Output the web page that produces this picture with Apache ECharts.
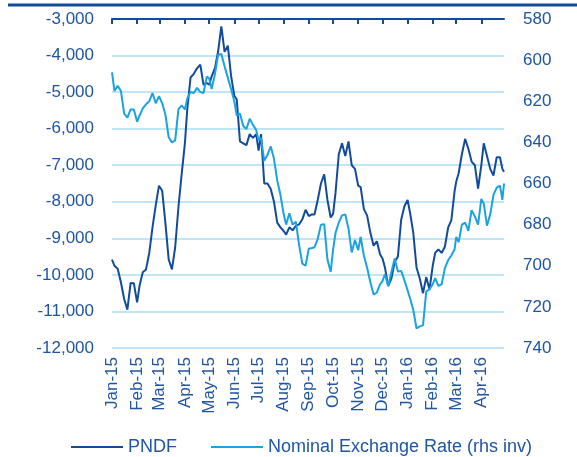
<!DOCTYPE html>
<html>
<head>
<meta charset="utf-8">
<script src="https://cdn.jsdelivr.net/npm/echarts@6/dist/echarts.min.js"></script>
<style>
  html, body { margin: 0; padding: 0; background: #fff; }
  #chart { width: 577px; height: 457px; }
</style>
</head>
<body>
<div id="chart"></div>
<script>
// sample dates (roughly every 4 days)
var dates = [
  '2015-01-01','2015-01-04','2015-01-08','2015-01-12','2015-01-16','2015-01-20','2015-01-24','2015-01-28',
  '2015-02-01','2015-02-04','2015-02-08','2015-02-12','2015-02-16','2015-02-20','2015-02-24','2015-02-28',
  '2015-03-01','2015-03-04','2015-03-08','2015-03-12','2015-03-16','2015-03-20','2015-03-24','2015-03-28',
  '2015-04-01','2015-04-04','2015-04-08','2015-04-12','2015-04-16','2015-04-20','2015-04-24','2015-04-28',
  '2015-05-01','2015-05-04','2015-05-08','2015-05-12','2015-05-16','2015-05-20','2015-05-24','2015-05-28',
  '2015-06-01','2015-06-04','2015-06-08','2015-06-12','2015-06-16','2015-06-20','2015-06-24','2015-06-28',
  '2015-07-01','2015-07-04','2015-07-08','2015-07-12','2015-07-16','2015-07-20','2015-07-24','2015-07-28',
  '2015-08-01','2015-08-04','2015-08-08','2015-08-12','2015-08-16','2015-08-20','2015-08-24','2015-08-28',
  '2015-09-01','2015-09-04','2015-09-08','2015-09-12','2015-09-16','2015-09-20','2015-09-24','2015-09-28',
  '2015-10-01','2015-10-04','2015-10-08','2015-10-12','2015-10-16','2015-10-20','2015-10-24','2015-10-28',
  '2015-11-01','2015-11-04','2015-11-08','2015-11-12','2015-11-16','2015-11-20','2015-11-24','2015-11-28',
  '2015-12-01','2015-12-04','2015-12-08','2015-12-12','2015-12-16','2015-12-20','2015-12-24','2015-12-28',
  '2016-01-01','2016-01-04','2016-01-08','2016-01-12','2016-01-16','2016-01-20','2016-01-24','2016-01-28',
  '2016-02-01','2016-02-04','2016-02-08','2016-02-12','2016-02-16','2016-02-20','2016-02-24','2016-02-28',
  '2016-03-01','2016-03-04','2016-03-08','2016-03-12','2016-03-16','2016-03-20','2016-03-24','2016-03-28',
  '2016-04-01','2016-04-04','2016-04-08','2016-04-12','2016-04-16','2016-04-20','2016-04-24','2016-04-27','2016-04-29'
];

// PNDF (left axis)
var pndf = [
  -9580,-9750,-9830,-10200,-10660,-10950,-10220,-10230,
  -10750,-10300,-9930,-9850,-9400,-8700,-8100,-7560,
  -7520,-7700,-8600,-9580,-9850,-9250,-8150,-7250,
  -6400,-5450,-4600,-4500,-4350,-4250,-4800,-4750,
  -4800,-4570,-4350,-3890,-3200,-3900,-3730,-4550,
  -5100,-5200,-6350,-6400,-6450,-6150,-6250,-6150,
  -6600,-6150,-7500,-7500,-7650,-8000,-8570,-8700,
  -8800,-8900,-8700,-8780,-8660,-8620,-8480,-8220,
  -8390,-8350,-8350,-7950,-7500,-7250,-7950,-8430,
  -8330,-7750,-6700,-6400,-6750,-6350,-7000,-7100,
  -7560,-7600,-8200,-8380,-8850,-9200,-9080,-9440,
  -9550,-9800,-10300,-10100,-9650,-9500,-8500,-8120,
  -7950,-8300,-8850,-9800,-10100,-10500,-10060,-10400,
  -9750,-9400,-9300,-9400,-9230,-8710,-8500,-7710,
  -7450,-7220,-6700,-6280,-6550,-6900,-7000,-7640,
  -7000,-6400,-6750,-7100,-7280,-6780,-6780,-7100,-7180
];

// nominal exchange rate (right axis, inverted)
var rate = [
  606,615,612.5,615,626,628,624,624,
  630,627,623.5,621.5,620,616,621,617.5,
  618,621,626.6,637.5,640,639,624,622,
  624,618.5,615.5,616,613.5,615.5,616,608,
  609,614,607,597.4,597,603,608.5,614,
  620,627,626,632,633.5,628.5,631.5,634,
  639,638,649,646,642,648,658.5,665.6,
  675,680,674.5,680,678.6,690,699,700,
  691.6,691.5,691,687,680,679.8,697,703,
  692,684,679,675.5,675,682,693.5,687.5,
  692.4,686,695,701,708,714,713,709,
  707.5,704,710,703,696.5,702.8,702.5,707,
  712,715.8,721.5,730.5,729.5,729,712.5,711.5,
  709,706,709.8,709,701.3,697.3,695,692,
  686,688.5,680,679,683,673,676,680,
  667.5,669.8,680.5,675,665.5,662,661,668,660
];

var monthNames = ['Jan','Feb','Mar','Apr','May','Jun','Jul','Aug','Sep','Oct','Nov','Dec'];

var darkBlue = '#134b9c';
var lightBlue = '#1aa3e0';
var textBlue = '#1f55a3';
var font = 'Liberation Sans, Arial, sans-serif';

var chart = echarts.init(document.getElementById('chart'), null, { renderer: 'canvas' });

var dayMs = 86400000;
var xMin = '2015-01-01';
var xMax = '2016-04-29';

function monthLabel(v) {
  var d = new Date(v);
  return monthNames[d.getMonth()] + '-' + String(d.getFullYear()).slice(2);
}

var option = {
  backgroundColor: '#fff',
  animation: false,
  textStyle: { fontFamily: font },
  graphic: [{
    type: 'line',
    shape: { x1: 8, y1: 5, x2: 577, y2: 5 },
    style: { stroke: darkBlue, lineWidth: 3 }
  }],
  grid: { left: 112, right: 73, top: 19, bottom: 109 },
  legend: {
    left: 66,
    top: 433,
    icon: 'rect',
    itemWidth: 52,
    itemHeight: 2,
    itemGap: 34,
    textStyle: { color: textBlue, fontSize: 18, fontFamily: font },
    data: ['PNDF', 'Nominal Exchange Rate (rhs inv)']
  },
  xAxis: [{
    type: 'time',
    position: 'bottom',
    min: xMin,
    max: xMax,
    splitNumber: 16,
    minInterval: 28 * dayMs,
    maxInterval: 31 * dayMs,
    axisLine: { show: false },
    axisTick: { show: false },
    splitLine: { show: false },
    axisLabel: {
      rotate: 90,
      margin: 9,
      color: textBlue,
      fontSize: 17,
      fontFamily: font,
      hideOverlap: false,
      showMinLabel: true,
      showMaxLabel: false,
      formatter: monthLabel
    }
  }, {
    type: 'time',
    position: 'top',
    min: xMin,
    max: xMax,
    splitNumber: 16,
    minInterval: 28 * dayMs,
    maxInterval: 31 * dayMs,
    axisLine: { show: true, lineStyle: { color: darkBlue, width: 2 } },
    axisTick: { show: true, inside: true, length: 5, lineStyle: { color: darkBlue, width: 2 } },
    axisLabel: {
      show: true,
      color: 'rgba(0,0,0,0)',
      fontSize: 6,
      hideOverlap: false,
      showMinLabel: true,
      showMaxLabel: false,
      formatter: monthLabel
    },
    splitLine: { show: false }
  }],
  yAxis: [{
    type: 'value',
    min: -12000,
    max: -3000,
    interval: 1000,
    axisLine: { show: false },
    axisTick: { show: false },
    splitLine: { show: true, lineStyle: { color: '#bfe5f6', width: 2 } },
    axisLabel: {
      margin: 18,
      color: textBlue,
      fontSize: 17,
      fontFamily: font,
      formatter: function (v) { return v.toLocaleString('en-US'); }
    }
  }, {
    type: 'value',
    inverse: true,
    min: 580,
    max: 740,
    interval: 20,
    axisLine: { show: false },
    axisTick: { show: false },
    splitLine: { show: false },
    axisLabel: {
      margin: 19,
      color: textBlue,
      fontSize: 17,
      fontFamily: font
    }
  }],
  series: [{
    name: 'PNDF',
    type: 'line',
    xAxisIndex: 0,
    yAxisIndex: 0,
    showSymbol: false,
    symbol: 'none',
    color: darkBlue,
    lineStyle: { color: darkBlue, width: 2 },
    data: dates.map(function (d, i) { return [d, pndf[i]]; })
  }, {
    name: 'Nominal Exchange Rate (rhs inv)',
    type: 'line',
    xAxisIndex: 0,
    yAxisIndex: 1,
    showSymbol: false,
    symbol: 'none',
    color: lightBlue,
    lineStyle: { color: lightBlue, width: 2 },
    data: dates.map(function (d, i) { return [d, rate[i]]; })
  }]
};

chart.setOption(option);
</script>
</body>
</html>
